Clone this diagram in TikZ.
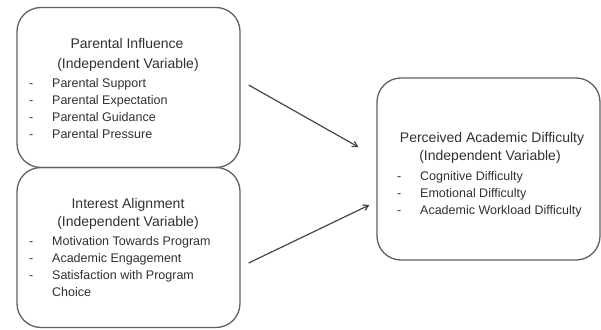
\documentclass[tikz,border=0pt]{standalone}
\usepackage{fontspec}
\setmainfont{Liberation Sans}
\usetikzlibrary{arrows.meta}
\definecolor{boxline}{HTML}{606060}
\definecolor{txt}{HTML}{303030}
\begin{document}
\begin{tikzpicture}[x=1pt,y=-1pt,
  varbox/.style={draw=boxline,line width=1.3pt,rounded corners=24pt,minimum width=223pt,inner sep=0pt},
  title/.style={text=txt,font=\fontsize{14}{16}\selectfont,inner sep=0pt,anchor=center},
  item/.style={text=txt,font=\fontsize{12.5}{14}\selectfont,inner sep=0pt,anchor=base west},
  link/.style={draw=txt!90,line width=1.2pt,-{Straight Barb[length=5pt,width=6pt]}}]
\useasboundingbox (0,0) rectangle (601,329);
% boxes
\node[varbox,minimum height=160pt] (b1) at (128.5,87.5) {};
\node[varbox,minimum height=160pt] (b2) at (128.5,247.5) {};
\node[varbox,minimum height=182pt] (b3) at (488.5,169) {};
% box 1 text
\node[title] (t1a) at (127,43) {Parental Influence};
\node[title] (t1b) at (128,65) {(Independent Variable)};
\node[item] (d1a) at (29,87.5) {-};
\node[item] (d1b) at (29,104.5) {-};
\node[item] (d1c) at (29,121.5) {-};
\node[item] (d1d) at (29,138.5) {-};
\node[item] (i1a) at (52,87.5) {Parental Support};
\node[item] (i1b) at (52,104.5) {Parental Expectation};
\node[item] (i1c) at (52,121.5) {Parental Guidance};
\node[item] (i1d) at (52,138.5) {Parental Pressure};
% box 2 text
\node[title] (t2a) at (128,205) {Interest Alignment};
\node[title] (t2b) at (128,223) {(Independent Variable)};
\node[item] (d2a) at (29,245.5) {-};
\node[item] (d2b) at (29,262.5) {-};
\node[item] (d2c) at (29,279.5) {-};
\node[item] (i2a) at (52,245.5) {Motivation Towards Program};
\node[item] (i2b) at (52,262.5) {Academic Engagement};
\node[item] (i2c) at (52,279.5) {Satisfaction with Program};
\node[item] (i2d) at (52,296.5) {Choice};
% box 3 text
\node[title] (t3a) at (492,139) {Perceived Academic Difficulty};
\node[title] (t3b) at (490,157) {(Independent Variable)};
\node[item] (d3a) at (397,180.5) {-};
\node[item] (d3b) at (397,197.5) {-};
\node[item] (d3c) at (397,214.5) {-};
\node[item] (i3a) at (420,180.5) {Cognitive Difficulty};
\node[item] (i3b) at (420,197.5) {Emotional Difficulty};
\node[item] (i3c) at (420,214.5) {Academic Workload Difficulty};
% arrows
\coordinate (a1s) at ([xshift=8pt]b1.east |- 0,85);
\coordinate (a1e) at ([xshift=-18pt]b3.west |- 0,147);
\coordinate (a2s) at ([xshift=8pt]b2.east |- 0,263);
\coordinate (a2e) at ([xshift=-7pt]b3.west |- 0,205);
\draw[link] (a1s) -- (a1e);
\draw[link] (a2s) -- (a2e);
\end{tikzpicture}
\end{document}
